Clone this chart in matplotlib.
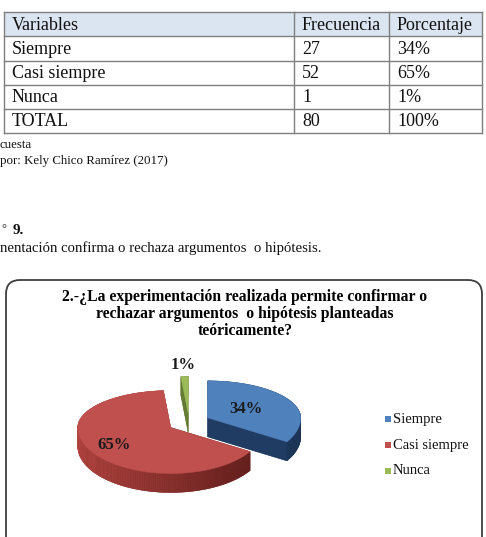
import numpy as np
import matplotlib.pyplot as plt
from matplotlib.patches import Polygon, Rectangle, FancyBboxPatch
from matplotlib.colors import to_rgb

# table data
header = ['Variables', 'Frecuencia', 'Porcentaje']
variables = ['Siempre', 'Casi siempre', 'Nunca', 'TOTAL']
frecuencia = [27, 52, 1, 80]
porcentaje = ['34%', '65%', '1%', '100%']

# pie data
labels = ['Siempre', 'Casi siempre', 'Nunca']
values = [27, 52, 1]
pct_labels = ['34%', '65%', '1%']
top_colors = ['#4f81bd', '#c0504d', '#9bbb59']
side_left = ['#2d4f7c', '#b0433f', '#76923c']
side_right = ['#1c3557', '#5e1d1b', '#4f6228']

serif = 'Liberation Serif'

fig = plt.figure(figsize=(4.86, 5.37), dpi=100)
ax = fig.add_axes([0, 0, 1, 1])
ax.set_xlim(0, 486)
ax.set_ylim(537, 0)
ax.axis('off')

# --- table ---
col_x = [4, 294, 389, 482]
row_y = [12, 36, 61, 85, 109, 133]
ax.add_patch(Rectangle((col_x[0], row_y[0]), col_x[-1] - col_x[0], row_y[1] - row_y[0],
                       facecolor='#dbe5f1', edgecolor='none'))
for y in row_y:
    ax.plot([col_x[0], col_x[-1]], [y, y], color='#7f7f7f', lw=1.0)
for x in col_x:
    ax.plot([x, x], [row_y[0], row_y[-1]], color='#7f7f7f', lw=1.0)
rows = [header] + [[v, str(f), p] for v, f, p in zip(variables, frecuencia, porcentaje)]
for r, row in enumerate(rows):
    yc = (row_y[r] + row_y[r + 1]) / 2 + 1
    for c, txt in enumerate(row):
        ax.text(col_x[c] + 8, yc, txt, family=serif, fontsize=13, va='center', ha='left', color='#111111')

ax.text(0, 145, 'cuesta', family=serif, fontsize=9.3, va='center', color='#111111')
ax.text(0, 161, 'por: Kely Chico Ramírez (2017)', family=serif, fontsize=9.3, va='center', color='#111111')
ax.text(1, 229, '°', family=serif, fontsize=9, va='center', color='#111111')
ax.text(13, 231, '9.', family=serif, fontsize=11, weight='bold', va='center', color='#111111')
ax.text(0, 248, 'nentación confirma o rechaza argumentos  o hipótesis.', family=serif, fontsize=10.6,
        va='center', color='#111111')

# --- chart box ---
ax.add_patch(FancyBboxPatch((6, 280), 476, 280, boxstyle='round,pad=0,rounding_size=14',
                            facecolor='white', edgecolor='#3f3f3f', lw=1.3))
ax.text(245, 314, '2.-¿La experimentación realizada permite confirmar o\n'
        'rechazar argumentos  o hipótesis planteadas\nteóricamente?',
        family=serif, fontsize=11.3, weight='bold', ha='center', va='center', linespacing=1.12)

# --- 3D pie ---
cx, cy = 189, 422
rx, ry_back, ry_front = 93, 37, 46
depth = 19
explode = 0.23


def pt(x0, y0, t):
    ry = ry_back if np.cos(t) > 0 else ry_front
    return np.array([x0 + rx * np.sin(t), y0 - ry * np.cos(t)])


total = sum(values)
start = 0.0
slices = []
for i, v in enumerate(values):
    a0 = start
    a1 = start + v / total * 2 * np.pi
    start = a1
    mid = (a0 + a1) / 2
    off = pt(0, 0, mid) * explode
    slices.append((i, a0, a1, mid, cx + off[0], cy + off[1]))

# draw back-to-front
for i, a0, a1, mid, x0, y0 in sorted(slices, key=lambda s: s[5]):
    ts = np.linspace(a0, a1, max(int((a1 - a0) / 0.02), 2))
    arc = np.array([pt(x0, y0, t) for t in ts])
    top = np.vstack([[x0, y0], arc])
    d = np.array([0, depth])
    ax.add_patch(Polygon(top + d, closed=True, facecolor=side_right[i], edgecolor='none'))
    quads = []
    edges = [(top[k], top[(k + 1) % len(top)]) for k in range(len(top))]
    for p, q in edges:
        xm = (p[0] + q[0]) / 2
        f = np.clip((xm - (x0 - rx)) / (2 * rx), 0, 1)
        col = np.array(to_rgb(side_left[i])) * (1 - f) + np.array(to_rgb(side_right[i])) * f
        quads.append(((p[1] + q[1]) / 2, [p, q, q + d, p + d], col))
    for _, quad, col in sorted(quads, key=lambda qd: qd[0]):
        ax.add_patch(Polygon(quad, closed=True, facecolor=col, edgecolor=col, lw=0.3))
    ax.add_patch(Polygon(top, closed=True, facecolor=top_colors[i], edgecolor=top_colors[i], lw=0.3))
    frac = values[i] / total
    r = 1.3 if frac < 0.05 else (0.72 if frac > 0.5 else 0.47)
    lp = pt(x0, y0, mid)
    lx = x0 + (lp[0] - x0) * r
    ly = y0 + (lp[1] - y0) * r
    ax.text(lx, ly, pct_labels[i], family=serif, fontsize=12, weight='bold', ha='center', va='center',
            color='#1a1a1a')

# legend
for k, lab in enumerate(labels):
    yl = 419 + 26 * k
    ax.add_patch(Rectangle((385, yl - 3.5), 6, 6, facecolor=top_colors[k], edgecolor='none'))
    ax.text(393, yl, lab, family=serif, fontsize=10.5, va='center', ha='left', color='#111111')

plt.savefig('out.png', dpi=100)
